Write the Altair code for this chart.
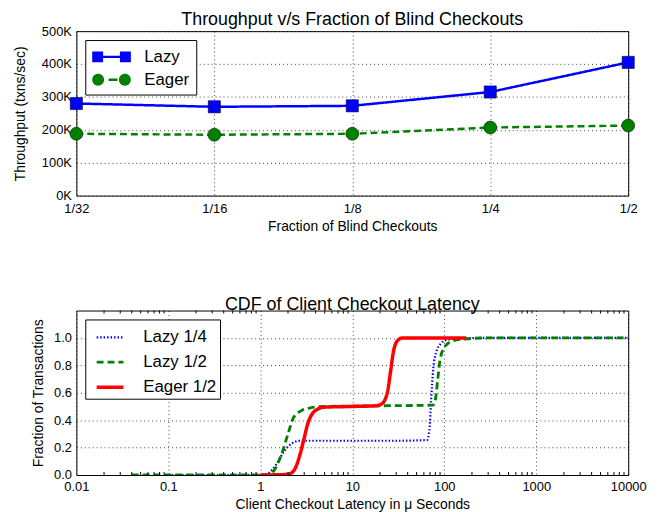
import altair as alt
import pandas as pd

FONT = "Liberation Sans"

# ---------------- top panel data ----------------
fractions = ["1/32", "1/16", "1/8", "1/4", "1/2"]
lazy_tp = [280000, 270000, 273000, 315000, 405000]
eager_tp = [188000, 185000, 188000, 207000, 213000]
tp_series = ["Lazy", "Eager"]
tp_colors = ["#0000FF", "#008000"]
tp_ticks = [0, 100000, 200000, 300000, 400000, 500000]

# ---------------- bottom panel data ----------------
lazy14_x = [0.1, 0.3, 1.0, 1.2, 1.5, 1.8, 2.2, 2.7, 5, 30, 65, 69, 72, 76, 82, 92, 105, 130, 250, 10000]
lazy14_y = [0.0, 0.0, 0.0, 0.01, 0.08, 0.17, 0.23, 0.25, 0.25, 0.25, 0.255, 0.33, 0.55, 0.78, 0.9, 0.96, 0.985, 0.995, 1.0, 1.0]

lazy12_x = [0.04, 0.3, 1.2, 1.4, 1.7, 2.0, 2.3, 2.8, 3.5, 5, 20, 75, 80, 85, 90, 100, 115, 150, 300, 10000]
lazy12_y = [0.0, 0.0, 0.0, 0.03, 0.15, 0.3, 0.42, 0.47, 0.49, 0.5, 0.505, 0.51, 0.55, 0.7, 0.84, 0.93, 0.97, 0.99, 1.0, 1.0]

eager12_x = [1.0, 1.8, 2.1, 2.4, 2.7, 3.0, 3.3, 3.7, 4.2, 5, 10, 18, 21, 24, 26, 28, 31, 35, 173]
eager12_y = [0.0, 0.003, 0.01, 0.05, 0.15, 0.27, 0.38, 0.45, 0.48, 0.495, 0.5, 0.505, 0.52, 0.6, 0.75, 0.9, 0.98, 1.0, 1.0]

cdf_series = ["Lazy 1/4", "Lazy 1/2", "Eager 1/2"]
cdf_colors = ["#0000FF", "#008000", "#FF0000"]
cdf_dash = [[1.5, 2], [7, 4], [1, 0]]
cdf_width = [2.2, 3.5, 3.5]
lat_ticks = [0.01, 0.1, 1, 10, 100, 1000, 10000]
lat_minor_mult = [2, 3, 4, 5, 6, 7, 8, 9]
frac_ticks = [0.0, 0.2, 0.4, 0.6, 0.8, 1.0]

W, H = 557, 166

# ---------------- build top ----------------
rows = []
for s, vals in zip(tp_series, [lazy_tp, eager_tp]):
    for i, (f, v) in enumerate(zip(fractions, vals)):
        rows.append({"mode": s, "fraction": f, "tp": v, "order": i})
tp_df = pd.DataFrame(rows)

# legend glyphs (unit = 10 px): marker - line - marker
lazy_path = ("M-1.95,-0.55H-0.85V0.55H-1.95Z M0.85,-0.55H1.95V0.55H0.85Z "
             "M-0.85,-0.12H0.85V0.12H-0.85Z")
eager_path = ("M-1.95,0A0.6,0.6 0 1,1 -0.75,0A0.6,0.6 0 1,1 -1.95,0Z "
              "M0.75,0A0.6,0.6 0 1,1 1.95,0A0.6,0.6 0 1,1 0.75,0Z "
              "M-0.3,-0.12H0.6V0.12H-0.3Z")

x_top = alt.X("fraction:N", sort=fractions,
              scale=alt.Scale(type="point", padding=0),
              axis=alt.Axis(title="Fraction of Blind Checkouts", labelAngle=0,
                            grid=True, ticks=False, domain=False,
                            labelPadding=7, titlePadding=4))
y_top = alt.Y("tp:Q", scale=alt.Scale(domain=[0, 500000], nice=False),
              axis=alt.Axis(title="Throughput (txns/sec)", values=tp_ticks,
                            labelExpr="format(datum.value/1000,'d') + 'K'",
                            grid=True, ticks=False, domain=False,
                            labelPadding=5, titlePadding=9, minExtent=40, maxExtent=40))
col_top = alt.Color("mode:N", scale=alt.Scale(domain=tp_series, range=tp_colors), legend=None)

top_base = alt.Chart(tp_df)
top_line = top_base.mark_line(strokeWidth=2.5).encode(
    x=x_top, y=y_top, order="order:Q", color=col_top,
    strokeDash=alt.StrokeDash("mode:N", scale=alt.Scale(domain=tp_series, range=[[1, 0], [7, 4]]), legend=None),
)
top_sq = top_base.transform_filter(alt.datum.mode == "Lazy").mark_point(
    filled=True, opacity=1, size=150, shape="square", stroke="#000033", strokeWidth=0.6
).encode(x=x_top, y=y_top, color=col_top)
top_ci = top_base.transform_filter(alt.datum.mode == "Eager").mark_point(
    filled=True, opacity=1, size=170, shape="circle", stroke="#001a00", strokeWidth=0.6
).encode(x=x_top, y=y_top, color=col_top)
top_leg_opts = dict(title=None, orient="top-left", offset=9,
                    symbolSize=400, symbolOpacity=1, symbolStrokeWidth=0,
                    symbolOffset=9.5, labelOffset=23,
                    labelFontSize=17, labelFont=FONT,
                    padding=7, rowPadding=5,
                    strokeColor="black", fillColor="white", cornerRadius=0)
top_leg = top_base.mark_point(filled=True, opacity=0).encode(
    x=x_top, y=y_top,
    fill=alt.Fill("mode:N", scale=alt.Scale(domain=tp_series, range=tp_colors),
                  legend=alt.Legend(**top_leg_opts)),
    shape=alt.Shape("mode:N", scale=alt.Scale(domain=tp_series, range=[lazy_path, eager_path]),
                    legend=alt.Legend(**top_leg_opts)),
)
top = alt.layer(top_line, top_sq, top_ci, top_leg).resolve_scale(
    fill="independent", shape="independent"
).properties(
    width=W, height=H,
    title=alt.TitleParams("Throughput v/s Fraction of Blind Checkouts", fontSize=18,
                          font=FONT, fontWeight="normal", offset=-4),
)

# ---------------- build bottom ----------------
rows = []
for s, xs, ys in zip(cdf_series, [lazy14_x, lazy12_x, eager12_x], [lazy14_y, lazy12_y, eager12_y]):
    for i, (a, b) in enumerate(zip(xs, ys)):
        rows.append({"series": s, "lat": a, "frac": b, "order": i})
cdf_df = pd.DataFrame(rows)
minor_df = pd.DataFrame({"lat": [m * t for t in lat_ticks[:-1] for m in lat_minor_mult]})

cdf_legend = alt.Legend(title=None, orient="top-left", offset=9,
                        symbolType="stroke", symbolSize=729,
                        symbolOffset=6.5, labelOffset=18,
                        labelFontSize=17, labelFont=FONT,
                        padding=3, rowPadding=2,
                        strokeColor="black", fillColor="white", cornerRadius=0)

x_bot = alt.X("lat:Q", scale=alt.Scale(type="log", domain=[0.01, 10000], nice=False),
              axis=alt.Axis(title="Client Checkout Latency in μ Seconds", values=lat_ticks,
                            labelExpr="'' + datum.value", grid=True, ticks=False,
                            domain=False, labelPadding=6, titlePadding=4, labelFlush=False))

cdf_lines = alt.Chart(cdf_df).mark_line(interpolate="monotone", clip=True).encode(
    x=x_bot,
    y=alt.Y("frac:Q", scale=alt.Scale(domain=[0, 1.2], nice=False),
            axis=alt.Axis(title="Fraction of Transactions", values=frac_ticks, format=".1f",
                          grid=True, ticks=False, domain=False, labelPadding=5,
                          titlePadding=7, minExtent=24, maxExtent=24)),
    order="order:Q",
    color=alt.Color("series:N", scale=alt.Scale(domain=cdf_series, range=cdf_colors), legend=cdf_legend),
    strokeDash=alt.StrokeDash("series:N", scale=alt.Scale(domain=cdf_series, range=cdf_dash), legend=cdf_legend),
    strokeWidth=alt.StrokeWidth("series:N", scale=alt.Scale(domain=cdf_series, range=cdf_width), legend=cdf_legend),
)
minor_bot = alt.Chart(minor_df).mark_rule(color="black", strokeWidth=1).encode(
    x=alt.X("lat:Q"), y=alt.value(H), y2=alt.value(H - 3))
minor_top = alt.Chart(minor_df).mark_rule(color="black", strokeWidth=1).encode(
    x=alt.X("lat:Q"), y=alt.value(0), y2=alt.value(3))

bottom = alt.layer(cdf_lines, minor_bot, minor_top).properties(
    width=W, height=H,
    title=alt.TitleParams("CDF of Client Checkout Latency", fontSize=18,
                          font=FONT, fontWeight="normal", offset=-4),
)

chart = alt.vconcat(top, bottom, spacing=62).resolve_scale(
    color="independent", fill="independent", shape="independent",
    strokeDash="independent", strokeWidth="independent",
).resolve_legend(
    color="independent", fill="independent", shape="independent",
    strokeDash="independent", strokeWidth="independent",
).configure_view(
    stroke="black", strokeWidth=1,
).configure_axis(
    labelFont=FONT, titleFont=FONT, labelFontSize=13, titleFontSize=14,
    labelColor="black", titleColor="black", titleFontWeight="normal",
    gridColor="black", gridDash=[1, 3], gridOpacity=0.75, gridWidth=1,
).configure_legend(
    labelColor="black",
).properties(padding={"left": 5, "top": 0, "right": 5, "bottom": 0})

chart.save("out.html", embed_options={"renderer": "svg", "actions": False})
